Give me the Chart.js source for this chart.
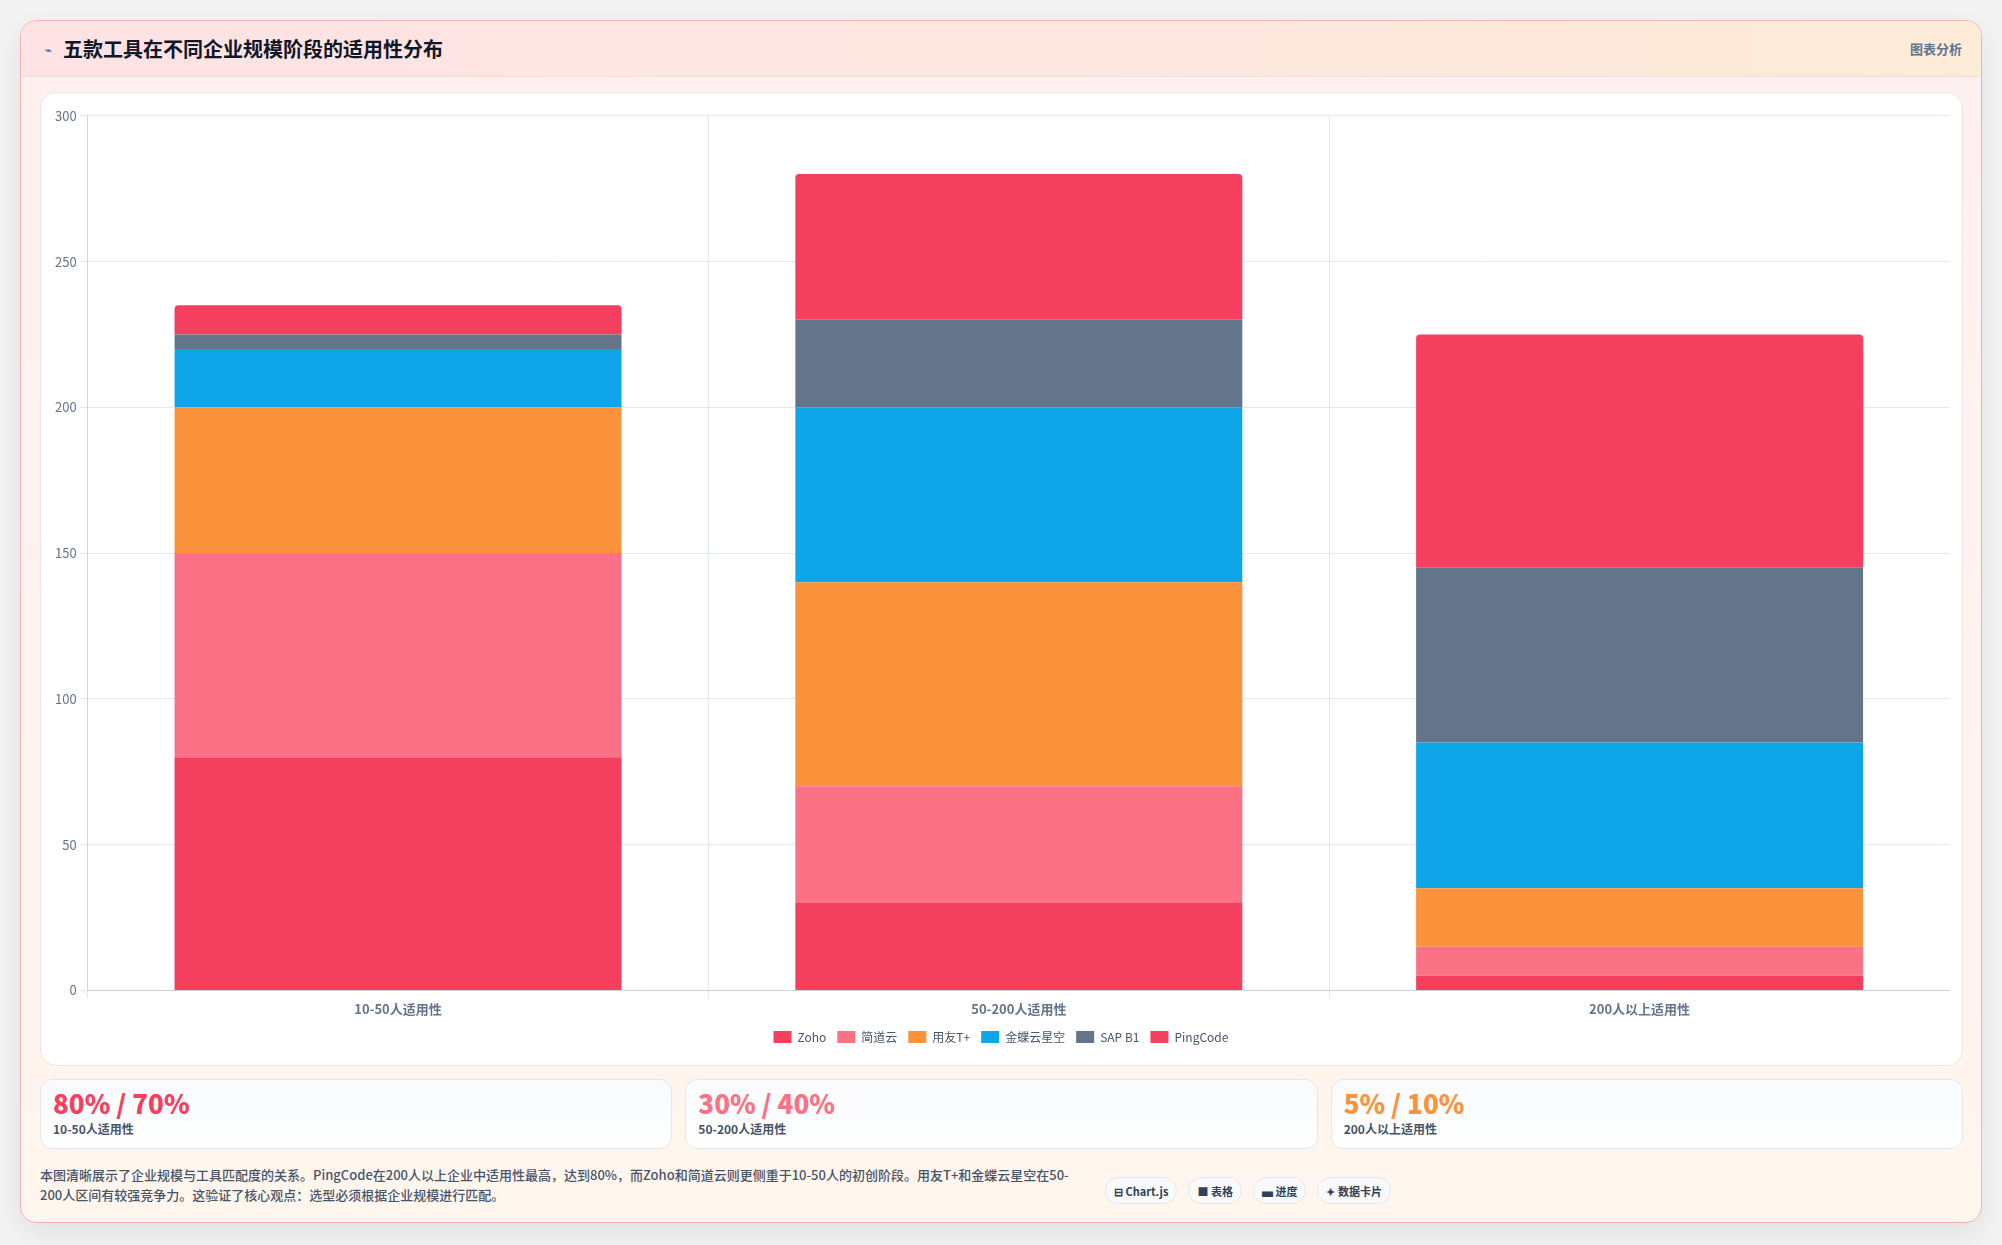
<!DOCTYPE html>
<html lang="zh-CN">
<head>
<meta charset="utf-8">
<title>五款工具在不同企业规模阶段的适用性分布</title>
<script src="https://cdn.jsdelivr.net/npm/chart.js@4.4.1/dist/chart.umd.min.js"></script>
<style>
  * { box-sizing: border-box; }
  html, body { margin: 0; padding: 0; }
  body {
    width: 2002px; height: 1245px;
    background: #f3f3f4;
    font-family: "Noto Sans CJK SC", "Noto Sans", sans-serif;
    overflow: hidden;
  }
  .card {
    position: absolute; left: 20px; top: 20px;
    width: 1962px; height: 1203px;
    border: 1px solid #f0b3b3;
    border-radius: 16px;
    overflow: hidden;
    background: linear-gradient(180deg, #fff0f0 0%, #fff6ed 100%);
    box-shadow: 0 10px 30px rgba(0,0,0,0.08);
  }
  .head {
    height: 56px;
    display: flex; align-items: center; justify-content: space-between;
    padding: 0 19px 0 24px;
    background: linear-gradient(90deg, #fde3e3 0%, #fde6e0 50%, #feebd8 100%);
    border-bottom: 1px solid #f3dede;
  }
  .head h1 {
    margin: 0; font-size: 20px; font-weight: 700; color: #0f172a;
    display: flex; align-items: center;
  }
  .head h1 .ico { color: #4f6bd8; font-size: 11px; margin-right: 11px; }
  .head .tag { font-size: 13px; font-weight: 700; color: #64748b; }
  .body { padding: 15px 18px 0 19px; }
  .panel {
    height: 974px;
    background: #fff;
    border: 1px solid #efe3e3;
    border-radius: 16px;
    padding: 12px 12px 12px 11px;
  }
  .chart-box { position: relative; width: 100%; height: 100%; }
  .stats { display: flex; gap: 13px; margin-top: 13px; }
  .stat {
    flex: 1; height: 70px;
    background: linear-gradient(180deg, #f8fafc 0%, #ffffff 100%);
    border: 1px solid #e2e8f0;
    border-radius: 12px;
    padding: 6px 12px;
  }
  .stat .v { font-size: 26px; font-weight: 800; line-height: 34px; }
  .stat .l { font-size: 12px; font-weight: 700; color: #475569; line-height: 18px; }
  .foot { display: flex; align-items: flex-start; margin-top: 16px; }
  .foot p {
    margin: 0; width: 1050px;
    font-size: 13px; line-height: 20px; color: #475569; font-weight: 500;
  }
  .pills { display: flex; gap: 11px; margin-left: 15px; margin-top: 12px; }
  .pill {
    height: 27px; padding: 0 8px;
    display: flex; align-items: center;
    font-size: 11px; font-weight: 700; color: #334155;
    background: #f8fafc;
    border: 1px solid #e2e8f0;
    border-radius: 14px;
  }
</style>
</head>
<body>
<div class="card">
  <div class="head">
    <h1><span class="ico">⌁</span>五款工具在不同企业规模阶段的适用性分布</h1>
    <span class="tag">图表分析</span>
  </div>
  <div class="body">
    <div class="panel"><div class="chart-box"><canvas id="stackChart"></canvas></div></div>
    <div class="stats" id="stats"></div>
    <div class="foot">
      <p>本图清晰展示了企业规模与工具匹配度的关系。PingCode在200人以上企业中适用性最高，达到80%，而Zoho和简道云则更侧重于10-50人的初创阶段。用友T+和金蝶云星空在50-200人区间有较强竞争力。这验证了核心观点：选型必须根据企业规模进行匹配。</p>
      <div class="pills">
        <span class="pill">⊟ Chart.js</span>
        <span class="pill">■ 表格</span>
        <span class="pill">▄ 进度</span>
        <span class="pill">✦ 数据卡片</span>
      </div>
    </div>
  </div>
</div>

<script>
  // categories and series
  const stages = ['10-50人适用性', '50-200人适用性', '200人以上适用性'];
  const tools  = ['Zoho', '简道云', '用友T+', '金蝶云星空', 'SAP B1', 'PingCode'];

  const zoho     = [80, 30, 5];
  const jiandao  = [70, 40, 10];
  const yonyou   = [50, 70, 20];
  const kingdee  = [20, 60, 50];
  const sapB1    = [5, 30, 60];
  const pingcode = [10, 50, 80];

  const yTicks = [0, 50, 100, 150, 200, 250, 300];

  // stat cards: Zoho / 简道云 per stage
  const statValues = ['80% / 70%', '30% / 40%', '5% / 10%'];
  const statColors = ['#f43f5e', '#fb7185', '#fb923c'];

  const colors = ['#f43f5e', '#fb7185', '#fb923c', '#0ea5e9', '#64748b', '#f43f5e'];
  const series = [zoho, jiandao, yonyou, kingdee, sapB1, pingcode];

  const GRID = '#e2e8f0';
  const MUTED = '#64748b';
  const FONT = '"Noto Sans CJK SC", sans-serif';

  new Chart(document.getElementById('stackChart'), {
    type: 'bar',
    data: {
      labels: stages,
      datasets: tools.map((t, i) => ({
        label: t,
        data: series[i],
        backgroundColor: colors[i],
        borderWidth: 0,
        borderRadius: 4
      }))
    },
    options: {
      responsive: true,
      maintainAspectRatio: false,
      animation: false,
      plugins: {
        legend: {
          position: 'bottom',
          labels: {
            color: '#475569',
            boxWidth: 18,
            boxHeight: 12,
            padding: 11,
            font: { size: 12, family: FONT }
          }
        }
      },
      scales: {
        x: {
          stacked: true,
          grid: { color: GRID },
          border: { color: '#cbd5e1' },
          ticks: { color: MUTED, font: { size: 13, weight: '600', family: FONT } }
        },
        y: {
          stacked: true,
          min: yTicks[0],
          max: yTicks[yTicks.length - 1],
          grid: { color: GRID },
          border: { color: '#cbd5e1' },
          afterBuildTicks: axis => { axis.ticks = yTicks.map(v => ({ value: v })); },
          ticks: { color: MUTED, font: { size: 13, family: FONT } }
        }
      }
    }
  });

  const statsEl = document.getElementById('stats');
  stages.forEach((s, i) => {
    const d = document.createElement('div');
    d.className = 'stat';
    d.innerHTML = '<div class="v" style="color:' + statColors[i] + '">' + statValues[i] + '</div><div class="l">' + s + '</div>';
    statsEl.appendChild(d);
  });
</script>
</body>
</html>
